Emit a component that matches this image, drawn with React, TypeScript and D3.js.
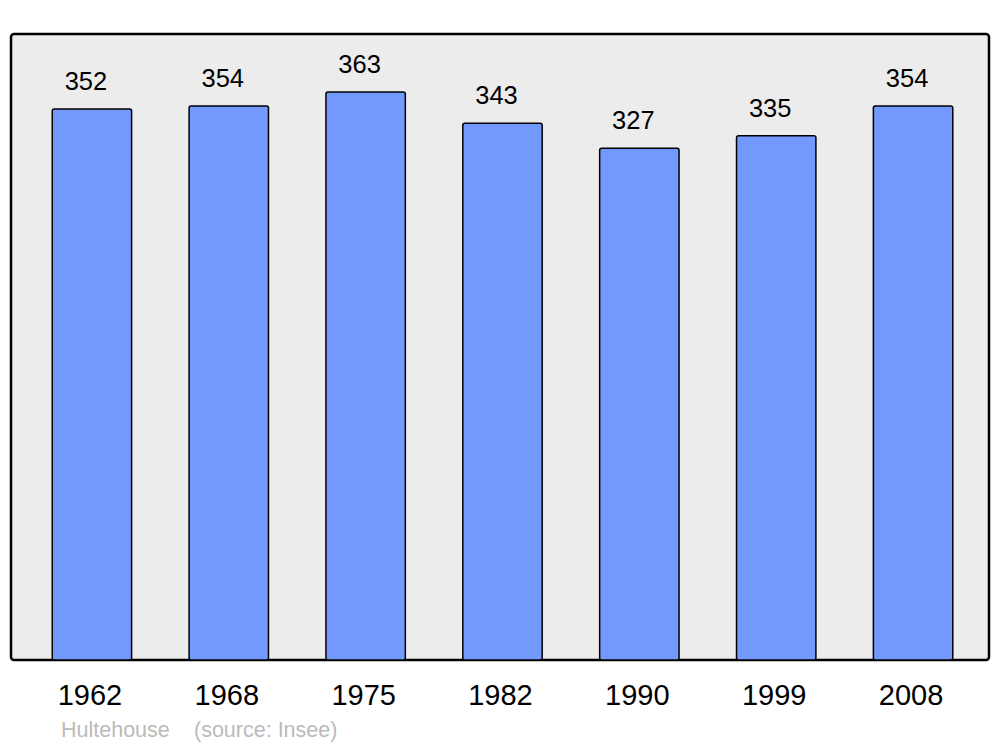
import React from "react";
import * as d3 from "d3";

const years = ["1962", "1968", "1975", "1982", "1990", "1999", "2008"];
const population = [352, 354, 363, 343, 327, 335, 354];
const yDomain = [0, 400];
const footerName = "Hultehouse";
const footerSource = "(source: Insee)";

const W = 1000;
const H = 747;
const panel = { left: 11, right: 989, top: 34, bottom: 660 };

export default function App() {
  const x = d3
    .scaleBand<string>()
    .domain(years)
    .range([23.5, 981.5])
    .paddingInner(0.42)
    .paddingOuter(0.21);
  const y = d3.scaleLinear().domain(yDomain).range([panel.bottom, panel.top]);
  const font = "'Liberation Sans', Arial, sans-serif";

  return (
    <svg
      width={W}
      height={H}
      style={{ position: "absolute", left: 0, top: 0, background: "#fff" }}
      fontFamily={font}
    >
      <rect
        x={panel.left}
        y={panel.top}
        width={panel.right - panel.left}
        height={panel.bottom - panel.top}
        rx={3}
        fill="#ececec"
        stroke="#000"
        strokeWidth={2.5}
      />
      {years.map((yr, i) => {
        const v = population[i];
        const bx = x(yr)!;
        const bw = x.bandwidth();
        const top = y(v);
        return (
          <g key={yr}>
            <rect
              x={bx}
              y={top}
              width={bw}
              height={panel.bottom - top}
              rx={2}
              fill="#7399ff"
              stroke="#000"
              strokeWidth={1.5}
            />
            <text
              x={bx + bw / 2 - 6}
              y={top - 19}
              textAnchor="middle"
              fontSize={25.5}
              fill="#000"
            >
              {v}
            </text>
            <text
              x={bx + bw / 2 - 2}
              y={705}
              textAnchor="middle"
              fontSize={29}
              fill="#000"
            >
              {yr}
            </text>
          </g>
        );
      })}
      <text x={61} y={737} fontSize={21.5} fill="#bbbbbb">
        {footerName}
      </text>
      <text x={194} y={737} fontSize={21.5} fill="#bbbbbb">
        {footerSource}
      </text>
    </svg>
  );
}
